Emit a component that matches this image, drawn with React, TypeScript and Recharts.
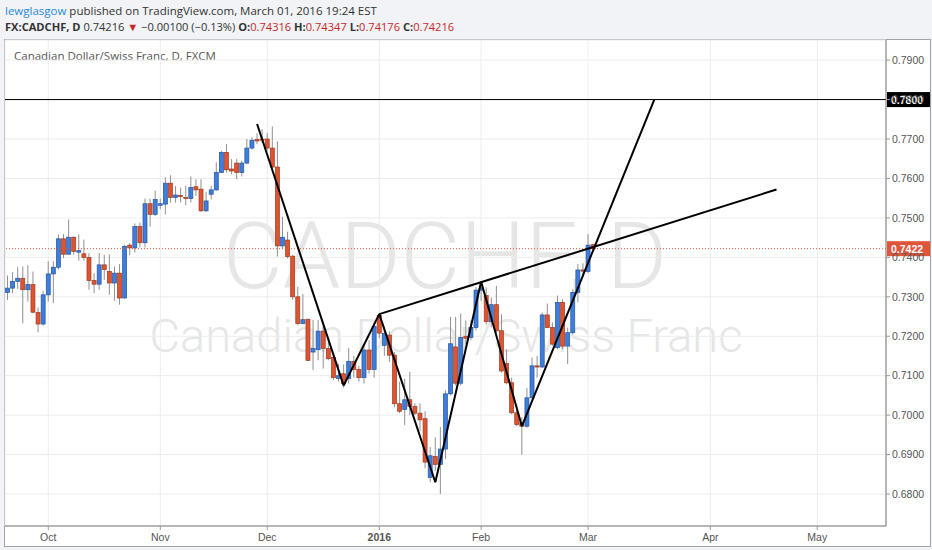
import React from "react";
import {
  ComposedChart,
  Bar,
  XAxis,
  YAxis,
  CartesianGrid,
  ReferenceLine,
} from "recharts";

// daily candles, Sep 21 2015 .. Mar 1 2016
const opens = [
  0.7311, 0.7322, 0.7339, 0.7347, 0.7318, 0.7331, 0.726, 0.7231, 0.7305, 0.7358,
  0.7375, 0.7447, 0.7408, 0.7451, 0.7413, 0.7409, 0.74, 0.7341, 0.7332, 0.7381,
  0.7364, 0.7335, 0.736, 0.7297, 0.7431, 0.7424, 0.7478, 0.7437, 0.7536, 0.7509,
  0.7532, 0.7535, 0.7588, 0.7552, 0.7557, 0.7552, 0.7549, 0.7579, 0.7573, 0.7518,
  0.756, 0.7571, 0.7615, 0.7666, 0.7624, 0.7639, 0.7615, 0.7639, 0.7677, 0.7699,
  0.77, 0.77, 0.7677, 0.7629, 0.7429, 0.7444, 0.7403, 0.73, 0.7232, 0.7243,
  0.716, 0.7166, 0.7213, 0.7169, 0.7146, 0.7093, 0.7105, 0.7093, 0.7136, 0.7116,
  0.7095, 0.7165, 0.7116, 0.7253, 0.7177, 0.7203, 0.7152, 0.7029, 0.7014, 0.7039,
  0.7022, 0.7005, 0.6991, 0.6842, 0.6895, 0.6875, 0.6914, 0.7054, 0.7173, 0.7081,
  0.72, 0.7197, 0.7222, 0.7317, 0.7303, 0.7237, 0.728, 0.7214, 0.7131, 0.7082,
  0.7006, 0.6981, 0.6972, 0.7044, 0.7125, 0.7122, 0.7254, 0.7222, 0.7171, 0.7286,
  0.7175, 0.7209, 0.7311, 0.7368, 0.7364, 0.7432,
];
const highs = [
  0.7354, 0.7362, 0.7375, 0.7377, 0.738, 0.7364, 0.7273, 0.7315, 0.739, 0.739,
  0.7458, 0.7459, 0.7496, 0.7453, 0.7458, 0.7445, 0.7411, 0.736, 0.7411, 0.7407,
  0.7408, 0.7377, 0.7383, 0.7432, 0.7436, 0.7486, 0.7488, 0.7549, 0.7549, 0.7569,
  0.7549, 0.7603, 0.7608, 0.7581, 0.7577, 0.7581, 0.7605, 0.7598, 0.7598, 0.7566,
  0.7581, 0.7641, 0.767, 0.7687, 0.7649, 0.7649, 0.7645, 0.77, 0.7704, 0.7715,
  0.7725, 0.7715, 0.7732, 0.7694, 0.7503, 0.7465, 0.7406, 0.7325, 0.7307, 0.7245,
  0.7241, 0.7241, 0.7232, 0.7194, 0.7157, 0.713, 0.7128, 0.717, 0.715, 0.7125,
  0.718, 0.719, 0.7235, 0.7259, 0.7225, 0.7212, 0.716, 0.7085, 0.7092, 0.711,
  0.703, 0.703, 0.701, 0.6919, 0.6944, 0.697, 0.7063, 0.7249, 0.7249, 0.7258,
  0.724, 0.724, 0.7325, 0.7336, 0.7324, 0.7298, 0.7328, 0.7256, 0.7167, 0.7095,
  0.7027, 0.6995, 0.7069, 0.7146, 0.715, 0.726, 0.7283, 0.7235, 0.7303, 0.7294,
  0.7222, 0.7319, 0.7383, 0.7385, 0.7459, 0.7435,
];
const lows = [
  0.7292, 0.7309, 0.732, 0.7233, 0.7288, 0.7258, 0.721, 0.7227, 0.7288, 0.7284,
  0.7369, 0.7398, 0.7407, 0.7407, 0.7392, 0.7392, 0.7318, 0.7309, 0.7318, 0.7343,
  0.7305, 0.729, 0.728, 0.7295, 0.7405, 0.7412, 0.7425, 0.7425, 0.7478, 0.7505,
  0.7522, 0.7509, 0.7539, 0.7539, 0.7539, 0.7532, 0.7539, 0.7556, 0.7515, 0.7515,
  0.7547, 0.7569, 0.7614, 0.7615, 0.7611, 0.7598, 0.7605, 0.7636, 0.7673, 0.7687,
  0.769, 0.7671, 0.7624, 0.7402, 0.7423, 0.7397, 0.7292, 0.7228, 0.7231, 0.7137,
  0.7114, 0.7139, 0.7118, 0.7139, 0.7089, 0.7085, 0.707, 0.708, 0.7095, 0.7085,
  0.708, 0.7105, 0.7095, 0.7195, 0.715, 0.7135, 0.702, 0.7005, 0.6975, 0.7,
  0.7, 0.696, 0.6865, 0.683, 0.6859, 0.68, 0.6889, 0.705, 0.7075, 0.7075,
  0.718, 0.719, 0.7215, 0.729, 0.723, 0.7222, 0.7209, 0.7108, 0.7078, 0.7002,
  0.6972, 0.69, 0.6968, 0.7042, 0.7095, 0.712, 0.722, 0.7176, 0.7167, 0.7167,
  0.713, 0.7205, 0.7286, 0.7355, 0.736, 0.7418,
];
const closes = [
  0.7322, 0.7339, 0.7347, 0.7318, 0.7331, 0.7261, 0.7231, 0.7305, 0.7358, 0.7375,
  0.7447, 0.7408, 0.7451, 0.7415, 0.7417, 0.74, 0.7341, 0.7332, 0.7381, 0.7369,
  0.7335, 0.736, 0.7297, 0.7428, 0.7424, 0.7478, 0.7437, 0.7536, 0.7509, 0.7547,
  0.7536, 0.7588, 0.7552, 0.7558, 0.7554, 0.7549, 0.7577, 0.7571, 0.7518, 0.7543,
  0.7571, 0.7615, 0.7666, 0.7622, 0.7619, 0.7615, 0.7639, 0.7677, 0.7697, 0.7695,
  0.7697, 0.7677, 0.7629, 0.7429, 0.7451, 0.7402, 0.73, 0.7232, 0.7242, 0.7139,
  0.7169, 0.7213, 0.7169, 0.7143, 0.7095, 0.71, 0.708, 0.7136, 0.7116, 0.7095,
  0.7165, 0.7116, 0.7225, 0.7208, 0.7207, 0.7152, 0.7029, 0.701, 0.7039, 0.7022,
  0.7005, 0.6988, 0.6881, 0.6897, 0.6875, 0.6914, 0.7054, 0.7181, 0.7081, 0.7197,
  0.7195, 0.7222, 0.7317, 0.7322, 0.7237, 0.728, 0.7214, 0.7112, 0.7082, 0.7006,
  0.6976, 0.6972, 0.7044, 0.7125, 0.7122, 0.7254, 0.7222, 0.718, 0.7286, 0.7175,
  0.7209, 0.7311, 0.7368, 0.7365, 0.7431, 0.7422,
];

// bar slots incl. empty future space on the right
const SLOTS = 173;
const monthTicks = [8, 30, 51, 73, 93, 114, 138, 159];
const monthLabels = ["Oct", "Nov", "Dec", "2016", "Feb", "Mar", "Apr", "May"];
const priceTicks = [0.68, 0.69, 0.7, 0.71, 0.72, 0.73, 0.74, 0.75, 0.76, 0.77, 0.78, 0.79];

// drawn trend lines: [barIndex, price] pairs
const trendLines = [
  [[49, 0.7738], [66, 0.7075]],
  [[66, 0.7075], [73, 0.7256]],
  [[73, 0.7256], [84, 0.683]],
  [[84, 0.683], [93, 0.7338]],
  [[93, 0.7338], [101, 0.6972]],
  [[101, 0.6972], [127, 0.78]],
  [[73, 0.7256], [151, 0.7572]],
];
const targetLevel = 0.78;
const lastClose = 0.7422;

const BLUE = "#3d7edb";
const BLUE_EDGE = "#24549f";
const RED = "#dc5432";
const RED_EDGE = "#a2381c";

const table = Array.from({ length: SLOTS }, (_, i) =>
  i < opens.length
    ? { i, o: opens[i], h: highs[i], l: lows[i], c: closes[i], range: [lows[i], highs[i]] }
    : { i }
);

function Candle(props: any) {
  const { x, y, width, height, payload } = props;
  if (!payload || payload.h == null) return null;
  const { o, h, l, c } = payload;
  const top = Math.min(y, y + height);
  const span = Math.abs(height);
  const py = (v: number) => top + ((h - v) / (h - l || 1)) * span;
  const cx = x + width / 2;
  const up = c >= o;
  const bTop = py(Math.max(o, c));
  const bh = Math.max(py(Math.min(o, c)) - bTop, 1);
  return (
    <g>
      <line x1={cx} x2={cx} y1={top} y2={top + span} stroke="#909090" strokeWidth={1} />
      <rect
        x={cx - 2}
        y={bTop}
        width={4}
        height={bh}
        fill={up ? BLUE : RED}
        stroke={up ? BLUE_EDGE : RED_EDGE}
        strokeWidth={0.7}
      />
    </g>
  );
}

function PriceTag({ viewBox, text, bg }: any) {
  if (!viewBox) return null;
  const { x, y, width } = viewBox;
  return (
    <g>
      <rect x={x + width + 1} y={y - 7.5} width={43} height={15} fill={bg} />
      <text
        x={x + width + 5}
        y={y + 4}
        fill="#fff"
        fontSize={10.5}
        fontWeight="bold"
        fontFamily="'Liberation Sans', Arial, sans-serif"
      >
        {text}
      </text>
    </g>
  );
}

function MonthTick(props: any) {
  const { x, y, payload } = props;
  const idx = monthTicks.indexOf(payload.value);
  const label = monthLabels[idx] ?? "";
  return (
    <text
      x={x}
      y={y + 9}
      textAnchor="middle"
      fontSize={10.5}
      fill="#555"
      fontWeight={label === "2016" ? "bold" : "normal"}
      fontFamily="'Liberation Sans', Arial, sans-serif"
    >
      {label}
    </text>
  );
}

const red = { color: "#c62828" };

export default function App() {
  return (
    <div
      style={{
        position: "absolute",
        left: 0,
        top: 0,
        width: 932,
        height: 550,
        background: "#f1f3f6",
        fontFamily: "'Open Sans', sans-serif",
        overflow: "hidden",
      }}
    >
      <div style={{ position: "absolute", left: 5, top: 3, fontSize: 11.5, color: "#333", whiteSpace: "nowrap" }}>
        <span style={{ color: "#2b8ad1" }}>lewglasgow</span> published on TradingView.com, March 01, 2016 19:24 EST
      </div>
      <div style={{ position: "absolute", left: 5, top: 19, fontSize: 11.1, color: "#333", whiteSpace: "nowrap" }}>
        <b>FX:CADCHF, D</b> 0.74216 <span style={{ color: "#c62828" }}>▼</span> −0.00100 (−0.13%){" "}
        <b>O:</b>
        <span style={red}>0.74316</span> <b>H:</b>
        <span style={red}>0.74347</span> <b>L:</b>
        <span style={red}>0.74176</span> <b>C:</b>
        <span style={red}>0.74216</span>
      </div>
      <div
        style={{
          position: "absolute",
          left: 4,
          top: 39,
          width: 927,
          height: 508,
          boxSizing: "border-box",
          border: "1px solid #a3a3a3",
          background: "#fff",
        }}
      />
      <svg width={932} height={550} style={{ position: "absolute", left: 0, top: 0 }}>
        <text x={445} y={288} textAnchor="middle" fontSize={92} fontWeight={300} fill="#e6e6e6" fontFamily="Roboto, sans-serif">
          CADCHF, D
        </text>
        <text x={446} y={352} textAnchor="middle" fontSize={47} fontWeight={300} fill="#e6e6e6" fontFamily="Roboto, sans-serif">
          Canadian Dollar/Swiss Franc
        </text>
      </svg>
      <div style={{ position: "absolute", left: 14, top: 48, fontSize: 11.5, color: "#555", whiteSpace: "nowrap" }}>
        Canadian Dollar/Swiss Franc, D, FXCM
      </div>
      <div style={{ position: "absolute", left: 0, top: 0 }}>
        <ComposedChart
          width={932}
          height={550}
          data={table}
          margin={{ top: 40, right: 2, bottom: 5, left: 5 }}
          barCategoryGap={0}
        >
          <CartesianGrid stroke="#ececec" />
          <XAxis
            dataKey="i"
            type="category"
            ticks={monthTicks}
            interval={0}
            tick={<MonthTick />}
            tickSize={4}
            height={19}
            axisLine={{ stroke: "#777" }}
            tickLine={{ stroke: "#999" }}
          />
          <YAxis
            orientation="right"
            width={44}
            domain={[0.6719, 0.7951]}
            ticks={priceTicks}
            allowDataOverflow
            tickFormatter={(v: number) => v.toFixed(4)}
            tick={{ fontSize: 10.5, fill: "#555", fontFamily: "'Liberation Sans', Arial, sans-serif" }}
            tickSize={4}
            axisLine={{ stroke: "#777" }}
            tickLine={{ stroke: "#999" }}
          />
          <ReferenceLine
            y={lastClose}
            stroke="#e0553a"
            strokeDasharray="1 2"
            label={(p: any) => <PriceTag viewBox={p.viewBox} text={lastClose.toFixed(4)} bg="#e0553a" />}
          />
          <ReferenceLine
            y={targetLevel}
            stroke="#000"
            strokeWidth={1}
            label={(p: any) => <PriceTag viewBox={p.viewBox} text={targetLevel.toFixed(4)} bg="#000" />}
          />
          <Bar dataKey="range" shape={<Candle />} isAnimationActive={false} />
          {trendLines.map((seg, k) => (
            <ReferenceLine
              key={k}
              segment={[
                { x: seg[0][0], y: seg[0][1] },
                { x: seg[1][0], y: seg[1][1] },
              ]}
              stroke="#000"
              strokeWidth={2}
            />
          ))}
        </ComposedChart>
      </div>
    </div>
  );
}
